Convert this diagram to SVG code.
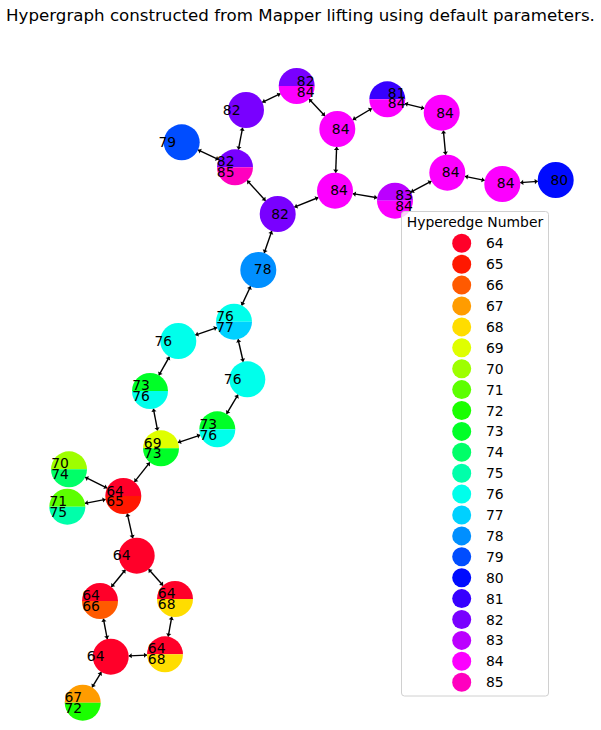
<svg xmlns="http://www.w3.org/2000/svg" xmlns:xlink="http://www.w3.org/1999/xlink" width="601" height="730" viewBox="0 0 601 730">
<style>
text{font-family:"DejaVu Sans","Liberation Sans",sans-serif;fill:#000}
.t{font-size:16.67px}
.lab{font-size:13.9px;text-anchor:middle}
.leg{font-size:13.9px}
.edges line{stroke:#000;stroke-width:1.4;marker-start:url(#ah);marker-end:url(#ah)}
.c64{fill:#ff0029}.c65{fill:#ff1800}.c66{fill:#ff5a00}.c67{fill:#ff9c00}.c68{fill:#ffdd00}.c69{fill:#dfff00}
.c70{fill:#9eff00}.c71{fill:#5cff00}.c72{fill:#1aff00}.c73{fill:#00ff27}.c74{fill:#00ff68}.c75{fill:#00ffaa}
.c76{fill:#00ffeb}.c77{fill:#00d1ff}.c78{fill:#008fff}.c79{fill:#004dff}.c80{fill:#000bff}.c81{fill:#3700ff}
.c82{fill:#7900ff}.c83{fill:#bb00ff}.c84{fill:#fc00ff}.c85{fill:#ff00bf}
</style>
<defs>
<marker id="ah" markerUnits="userSpaceOnUse" markerWidth="8" markerHeight="8" refX="3" refY="0" viewBox="-1 -4 6 8" orient="auto-start-reverse">
<path d="M0,-2.6 L3,0 L0,2.6 Z" fill="#000"/>
</marker>
<path id="tp" d="M-18,0 A18,18 0 0 1 18,0 Z"/>
<path id="bt" d="M-18,0 A18,18 0 0 0 18,0 Z"/>
<circle id="fc" r="18"/>
</defs>
<rect width="601" height="730" fill="#fff"/>
<text class="t" x="300.5" y="21" text-anchor="middle">Hypergraph constructed from Mapper lifting using default parameters.</text>
<g class="edges" id="edges">
<line x1="262.27" y1="102.3" x2="280.43" y2="93.7"/>
<line x1="309.06" y1="99.09" x2="324.94" y2="115.91"/>
<line x1="242.61" y1="127.68" x2="238.39" y2="149.62"/>
<line x1="198" y1="149.94" x2="218.7" y2="159.66"/>
<line x1="247.15" y1="180.58" x2="265.55" y2="200.72"/>
<line x1="294.37" y1="207.22" x2="318.33" y2="197.48"/>
<line x1="336.63" y1="146.99" x2="335.67" y2="172.71"/>
<line x1="352.77" y1="119.81" x2="371.83" y2="108.49"/>
<line x1="404.78" y1="103.6" x2="424.22" y2="108.4"/>
<line x1="443.37" y1="130.62" x2="445.63" y2="154.78"/>
<line x1="352.75" y1="193.66" x2="377.25" y2="197.74"/>
<line x1="410.87" y1="192.2" x2="431.43" y2="181.2"/>
<line x1="464.93" y1="176.32" x2="484.67" y2="180.38"/>
<line x1="520.25" y1="182.66" x2="537.75" y2="181.34"/>
<line x1="271.81" y1="231.01" x2="264.19" y2="252.99"/>
<line x1="250.64" y1="286.29" x2="241.66" y2="305.41"/>
<line x1="216.99" y1="327.59" x2="195.31" y2="335.11"/>
<line x1="238.05" y1="339.24" x2="243.25" y2="361.76"/>
<line x1="169.43" y1="356.67" x2="158.87" y2="375.33"/>
<line x1="238.04" y1="394.73" x2="226.56" y2="413.87"/>
<line x1="153.39" y1="408.68" x2="157.61" y2="430.62"/>
<line x1="200.24" y1="435.06" x2="177.94" y2="442.54"/>
<line x1="149.84" y1="462.42" x2="134.46" y2="481.88"/>
<line x1="85.15" y1="477.24" x2="107.15" y2="488.06"/>
<line x1="84.98" y1="503.32" x2="105.62" y2="499.38"/>
<line x1="127.24" y1="513.56" x2="132.76" y2="538.14"/>
<line x1="125.37" y1="569.69" x2="111.33" y2="587.01"/>
<line x1="148.63" y1="569.18" x2="163.07" y2="585.52"/>
<line x1="103.4" y1="618.68" x2="107.3" y2="639.02"/>
<line x1="171.8" y1="616.71" x2="168.2" y2="636.59"/>
<line x1="128.68" y1="655.9" x2="147.02" y2="655.1"/>
<line x1="101.34" y1="672.08" x2="92.06" y2="687.32"/>
</g>
<g id="nA" transform="translate(296.7,86)"><use xlink:href="#tp" class="c82"/><use xlink:href="#bt" class="c84"/><text class="lab" x="9" y="0">82</text><text class="lab" x="9" y="11">84</text></g>
<g id="nB" transform="translate(246,110)"><use xlink:href="#fc" class="c82"/><text class="lab" x="-14.3" y="4.5">82</text></g>
<g id="nC" transform="translate(181.7,142.3)"><use xlink:href="#fc" class="c79"/><text class="lab" x="-14.4" y="4.5">79</text></g>
<g id="nD" transform="translate(235,167.3)"><use xlink:href="#tp" class="c82"/><use xlink:href="#bt" class="c85"/><text class="lab" x="-9.3" y="-1.5">82</text><text class="lab" x="-9.3" y="10">85</text></g>
<g id="nE" transform="translate(277.7,214)"><use xlink:href="#fc" class="c82"/><text class="lab" x="2.3" y="4.5">82</text></g>
<g id="nF" transform="translate(337.3,129)"><use xlink:href="#fc" class="c84"/><text class="lab" x="3.4" y="5">84</text></g>
<g id="nG" transform="translate(335,190.7)"><use xlink:href="#fc" class="c84"/><text class="lab" x="4" y="4.5">84</text></g>
<g id="nH" transform="translate(387.3,99.3)"><use xlink:href="#tp" class="c81"/><use xlink:href="#bt" class="c84"/><text class="lab" x="9.4" y="-1">81</text><text class="lab" x="9.4" y="9">84</text></g>
<g id="nI" transform="translate(395,200.7)"><use xlink:href="#tp" class="c83"/><use xlink:href="#bt" class="c84"/><text class="lab" x="9" y="-0.5">83</text><text class="lab" x="9" y="10">84</text></g>
<g id="nJ" transform="translate(441.7,112.7)"><use xlink:href="#fc" class="c84"/><text class="lab" x="3.3" y="5">84</text></g>
<g id="nK" transform="translate(447.3,172.7)"><use xlink:href="#fc" class="c84"/><text class="lab" x="3.4" y="4">84</text></g>
<g id="nL" transform="translate(502.3,184)"><use xlink:href="#fc" class="c84"/><text class="lab" x="3.4" y="4.3">84</text></g>
<g id="nM" transform="translate(555.7,180)"><use xlink:href="#fc" class="c80"/><text class="lab" x="3.6" y="5">80</text></g>
<g id="nN" transform="translate(258.3,270)"><use xlink:href="#fc" class="c78"/><text class="lab" x="4.4" y="4.3">78</text></g>
<g id="nO" transform="translate(234,321.7)"><use xlink:href="#tp" class="c76"/><use xlink:href="#bt" class="c77"/><text class="lab" x="-9" y="-0.7">76</text><text class="lab" x="-9" y="10.6">77</text></g>
<g id="nP" transform="translate(178.3,341)"><use xlink:href="#fc" class="c76"/><text class="lab" x="-15" y="5">76</text></g>
<g id="nQ" transform="translate(247.3,379.3)"><use xlink:href="#fc" class="c76"/><text class="lab" x="-14.6" y="4.7">76</text></g>
<g id="nR" transform="translate(150,391)"><use xlink:href="#tp" class="c73"/><use xlink:href="#bt" class="c76"/><text class="lab" x="-9" y="-1">73</text><text class="lab" x="-9" y="10">76</text></g>
<g id="nS" transform="translate(217.3,429.3)"><use xlink:href="#tp" class="c73"/><use xlink:href="#bt" class="c76"/><text class="lab" x="-9" y="-0.3">73</text><text class="lab" x="-9" y="10.7">76</text></g>
<g id="nT" transform="translate(161,448.3)"><use xlink:href="#tp" class="c69"/><use xlink:href="#bt" class="c73"/><text class="lab" x="-8.3" y="-0.6">69</text><text class="lab" x="-8.3" y="10">73</text></g>
<g id="nU" transform="translate(69,469.3)"><use xlink:href="#tp" class="c70"/><use xlink:href="#bt" class="c74"/><text class="lab" x="-9" y="-1">70</text><text class="lab" x="-9" y="10">74</text></g>
<g id="nV" transform="translate(67.3,506.7)"><use xlink:href="#tp" class="c71"/><use xlink:href="#bt" class="c75"/><text class="lab" x="-9" y="-0.7">71</text><text class="lab" x="-9" y="10.6">75</text></g>
<g id="nW" transform="translate(123.3,496)"><use xlink:href="#tp" class="c64"/><use xlink:href="#bt" class="c65"/><text class="lab" x="-8.3" y="-0.3">64</text><text class="lab" x="-8.3" y="10.3">65</text></g>
<g id="nX" transform="translate(136.7,555.7)"><use xlink:href="#fc" class="c64"/><text class="lab" x="-15" y="4.3">64</text></g>
<g id="nY" transform="translate(100,601)"><use xlink:href="#tp" class="c64"/><use xlink:href="#bt" class="c66"/><text class="lab" x="-9" y="-1">64</text><text class="lab" x="-9" y="10">66</text></g>
<g id="nZ" transform="translate(175,599)"><use xlink:href="#tp" class="c64"/><use xlink:href="#bt" class="c68"/><text class="lab" x="-8.3" y="-0.7">64</text><text class="lab" x="-8.3" y="10">68</text></g>
<g id="nAA" transform="translate(110.7,656.7)"><use xlink:href="#fc" class="c64"/><text class="lab" x="-15" y="4.3">64</text></g>
<g id="nAB" transform="translate(165,654.3)"><use xlink:href="#tp" class="c64"/><use xlink:href="#bt" class="c68"/><text class="lab" x="-8.3" y="-1">64</text><text class="lab" x="-8.3" y="10">68</text></g>
<g id="nAC" transform="translate(82.7,702.7)"><use xlink:href="#tp" class="c67"/><use xlink:href="#bt" class="c72"/><text class="lab" x="-9.4" y="-0.4">67</text><text class="lab" x="-9.4" y="10">72</text></g>
<g id="legend">
<rect x="401.5" y="211.5" width="147" height="484.5" rx="3" fill="#fff" fill-opacity="0.8" stroke="#d0d0d0" stroke-width="1"/>
<text class="leg" x="475" y="227" text-anchor="middle">Hyperedge Number</text>
<g transform="translate(461.7,243.3)"><circle r="9.5" class="c64"/><text class="leg" x="24.3" y="5">64</text></g>
<g transform="translate(461.7,264.2)"><circle r="9.5" class="c65"/><text class="leg" x="24.3" y="5">65</text></g>
<g transform="translate(461.7,285.1)"><circle r="9.5" class="c66"/><text class="leg" x="24.3" y="5">66</text></g>
<g transform="translate(461.7,306)"><circle r="9.5" class="c67"/><text class="leg" x="24.3" y="5">67</text></g>
<g transform="translate(461.7,326.9)"><circle r="9.5" class="c68"/><text class="leg" x="24.3" y="5">68</text></g>
<g transform="translate(461.7,347.8)"><circle r="9.5" class="c69"/><text class="leg" x="24.3" y="5">69</text></g>
<g transform="translate(461.7,368.7)"><circle r="9.5" class="c70"/><text class="leg" x="24.3" y="5">70</text></g>
<g transform="translate(461.7,389.6)"><circle r="9.5" class="c71"/><text class="leg" x="24.3" y="5">71</text></g>
<g transform="translate(461.7,410.5)"><circle r="9.5" class="c72"/><text class="leg" x="24.3" y="5">72</text></g>
<g transform="translate(461.7,431.4)"><circle r="9.5" class="c73"/><text class="leg" x="24.3" y="5">73</text></g>
<g transform="translate(461.7,452.3)"><circle r="9.5" class="c74"/><text class="leg" x="24.3" y="5">74</text></g>
<g transform="translate(461.7,473.2)"><circle r="9.5" class="c75"/><text class="leg" x="24.3" y="5">75</text></g>
<g transform="translate(461.7,494.1)"><circle r="9.5" class="c76"/><text class="leg" x="24.3" y="5">76</text></g>
<g transform="translate(461.7,515)"><circle r="9.5" class="c77"/><text class="leg" x="24.3" y="5">77</text></g>
<g transform="translate(461.7,535.9)"><circle r="9.5" class="c78"/><text class="leg" x="24.3" y="5">78</text></g>
<g transform="translate(461.7,556.8)"><circle r="9.5" class="c79"/><text class="leg" x="24.3" y="5">79</text></g>
<g transform="translate(461.7,577.7)"><circle r="9.5" class="c80"/><text class="leg" x="24.3" y="5">80</text></g>
<g transform="translate(461.7,598.6)"><circle r="9.5" class="c81"/><text class="leg" x="24.3" y="5">81</text></g>
<g transform="translate(461.7,619.5)"><circle r="9.5" class="c82"/><text class="leg" x="24.3" y="5">82</text></g>
<g transform="translate(461.7,640.4)"><circle r="9.5" class="c83"/><text class="leg" x="24.3" y="5">83</text></g>
<g transform="translate(461.7,661.3)"><circle r="9.5" class="c84"/><text class="leg" x="24.3" y="5">84</text></g>
<g transform="translate(461.7,682.2)"><circle r="9.5" class="c85"/><text class="leg" x="24.3" y="5">85</text></g>
</g>
</svg>
